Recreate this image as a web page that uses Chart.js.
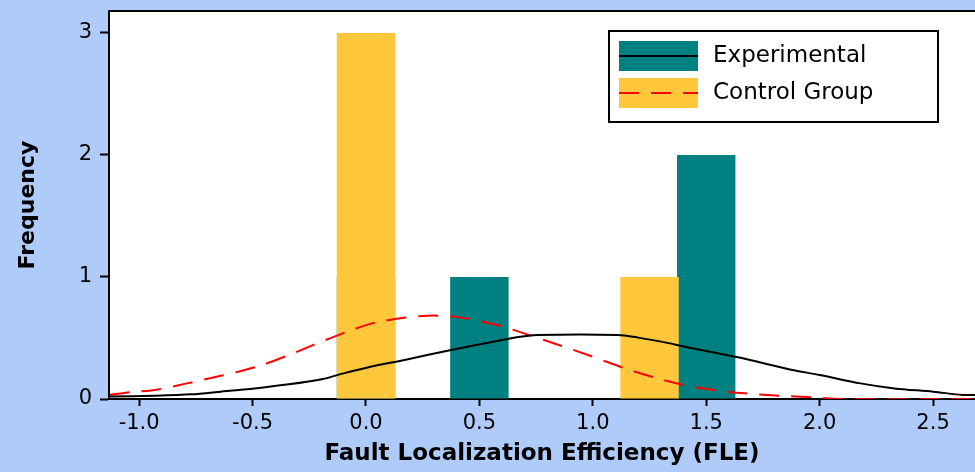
<!DOCTYPE html>
<html>
<head>
<meta charset="utf-8">
<script src="https://cdn.jsdelivr.net/npm/chart.js@4.4.1/dist/chart.umd.min.js"></script>
<style>
  html, body { margin: 0; padding: 0; background: #afcbfa; }
</style>
</head>
<body>
<canvas id="fleChart" width="975" height="472"></canvas>
<script>
const seriesNames = ['Experimental', 'Control Group'];

// histogram bins (bin centres) and counts
const expBins = [0.0, 0.5, 1.5];
const expCounts = [1, 1, 2];
const ctrlBins = [0.0, 1.25];
const ctrlCounts = [3, 1];

// fitted normal curves
const expCurveX = [-1.13, -0.93, -0.77, -0.64, -0.49, -0.34, -0.19, -0.12, 0.02, 0.17, 0.37, 0.6, 0.68, 0.75, 1.11, 1.2, 1.34, 1.39, 1.64, 1.88, 2.0, 2.18, 2.33, 2.5, 2.63, 2.69];
const expCurveY = [0.02, 0.027, 0.038, 0.06, 0.087, 0.12, 0.164, 0.2, 0.265, 0.32, 0.40, 0.484, 0.51, 0.525, 0.525, 0.503, 0.456, 0.434, 0.342, 0.238, 0.197, 0.128, 0.087, 0.06, 0.033, 0.033];
const ctrlCurveX = [-1.13, -1.04, -0.93, -0.79, -0.64, -0.48, -0.34, -0.19, -0.05, 0.06, 0.27, 0.42, 0.59, 0.71, 0.86, 1.0, 1.15, 1.31, 1.44, 1.59, 1.77, 1.96, 2.1, 2.69];
const ctrlCurveY = [0.033, 0.055, 0.074, 0.128, 0.19, 0.265, 0.36, 0.475, 0.574, 0.634, 0.683, 0.667, 0.60, 0.53, 0.437, 0.347, 0.246, 0.156, 0.10, 0.06, 0.033, 0.014, 0, 0];

const xMin = -1.133;
const xMax = 2.685;
const yMax = 3.18;

const teal = '#008080';
const yellow = '#ffc83c';

function toPoints(xs, ys) {
    return xs.map((x, i) => ({ x: x, y: ys[i] }));
}

// white plot area + black frame (right side runs off the canvas)
const plotFrame = {
    id: 'plotFrame',
    beforeDraw(chart) {
        const ctx = chart.ctx;
        const a = chart.chartArea;
        ctx.save();
        ctx.fillStyle = '#afcbfa';
        ctx.fillRect(0, 0, chart.width, chart.height);
        ctx.fillStyle = '#ffffff';
        ctx.fillRect(a.left, a.top, a.right - a.left, a.bottom - a.top);
        ctx.restore();
    },
    afterDraw(chart) {
        const ctx = chart.ctx;
        const a = chart.chartArea;
        ctx.save();
        ctx.strokeStyle = '#000';
        ctx.lineWidth = 2;
        ctx.beginPath();
        ctx.moveTo(a.left, a.bottom);
        ctx.lineTo(a.left, a.top);
        ctx.lineTo(chart.width + 5, a.top);
        ctx.stroke();
        ctx.restore();
    }
};

// boxed legend inside the plot, swatch = bar colour with the curve style through it
const legendBox = {
    id: 'legendBox',
    afterDraw(chart) {
        const ctx = chart.ctx;
        const ds = chart.data.datasets;
        const rows = [
            { label: seriesNames[0], fill: ds[2].backgroundColor, line: ds[0].borderColor, dash: ds[0].borderDash },
            { label: seriesNames[1], fill: ds[3].backgroundColor, line: ds[1].borderColor, dash: ds[1].borderDash }
        ];
        ctx.save();
        ctx.fillStyle = '#fff';
        ctx.fillRect(609, 31, 329, 91);
        ctx.strokeStyle = '#000';
        ctx.lineWidth = 2;
        ctx.strokeRect(609, 31, 329, 91);
        rows.forEach((r, i) => {
            const top = 41 + i * 37;
            ctx.fillStyle = r.fill;
            ctx.fillRect(619, top, 79, 30);
            ctx.strokeStyle = r.line;
            ctx.lineWidth = 2;
            ctx.setLineDash(r.dash);
            ctx.beginPath();
            ctx.moveTo(619, top + 15);
            ctx.lineTo(698, top + 15);
            ctx.stroke();
            ctx.setLineDash([]);
            ctx.fillStyle = '#000';
            ctx.font = '23px "DejaVu Sans"';
            ctx.textBaseline = 'middle';
            ctx.textAlign = 'left';
            ctx.fillText(r.label, 713, top + 15);
        });
        ctx.restore();
    }
};

const ctx = document.getElementById('fleChart').getContext('2d');
new Chart(ctx, {
    type: 'bar',
    data: {
        datasets: [
            {
                type: 'line',
                label: seriesNames[0],
                data: toPoints(expCurveX, expCurveY),
                borderColor: '#000',
                borderWidth: 2,
                borderDash: [],
                pointRadius: 0,
                tension: 0.3,
                fill: false,
                order: 0
            },
            {
                type: 'line',
                label: seriesNames[1],
                data: toPoints(ctrlCurveX, ctrlCurveY),
                borderColor: '#ff0000',
                borderWidth: 2,
                borderDash: [20, 12],
                pointRadius: 0,
                tension: 0.3,
                fill: false,
                order: 0
            },
            {
                label: seriesNames[0],
                data: toPoints(expBins, expCounts),
                backgroundColor: teal,
                grouped: false,
                categoryPercentage: 1,
                barPercentage: 1.03,
                order: 2
            },
            {
                label: seriesNames[1],
                data: toPoints(ctrlBins, ctrlCounts),
                backgroundColor: yellow,
                grouped: false,
                categoryPercentage: 1,
                barPercentage: 1.03,
                order: 1
            }
        ]
    },
    options: {
        responsive: false,
        animation: false,
        layout: { padding: { top: 11, right: 0, left: 0, bottom: 0 } },
        plugins: {
            legend: { display: false },
            tooltip: { enabled: false }
        },
        scales: {
            x: {
                type: 'linear',
                min: xMin,
                max: xMax,
                offset: false,
                afterFit: function (scale) {
                    scale.height = 73;
                    scale.paddingLeft = 0;
                    scale.paddingRight = 0;
                },
                grid: { offset: false, drawOnChartArea: false, tickLength: 7, tickColor: '#000', tickWidth: 2 },
                border: { color: '#000', width: 2 },
                ticks: {
                    stepSize: 0.5,
                    includeBounds: false,
                    color: '#000',
                    padding: 5,
                    maxRotation: 0,
                    font: { family: 'DejaVu Sans', size: 21 },
                    callback: function (v) { return v.toFixed(1); }
                },
                title: {
                    display: true,
                    text: 'Fault Localization Efficiency (FLE)',
                    color: '#000',
                    padding: { top: 0, bottom: 4 },
                    font: { family: 'DejaVu Sans', size: 23, weight: 'bold' }
                }
            },
            y: {
                min: 0,
                max: yMax,
                afterFit: function (scale) {
                    scale.width = 109;
                    scale.paddingTop = 0;
                    scale.paddingBottom = 0;
                },
                grid: { drawOnChartArea: false, tickLength: 9, tickColor: '#000', tickWidth: 2 },
                border: { color: '#000', width: 2 },
                ticks: {
                    stepSize: 1,
                    includeBounds: false,
                    color: '#000',
                    padding: 8,
                    font: { family: 'DejaVu Sans', size: 21 }
                },
                title: {
                    display: true,
                    text: 'Frequency',
                    color: '#000',
                    padding: { top: 15, bottom: 0 },
                    font: { family: 'DejaVu Sans', size: 22, weight: 'bold' }
                }
            }
        }
    },
    plugins: [plotFrame, legendBox]
});
</script>
</body>
</html>
